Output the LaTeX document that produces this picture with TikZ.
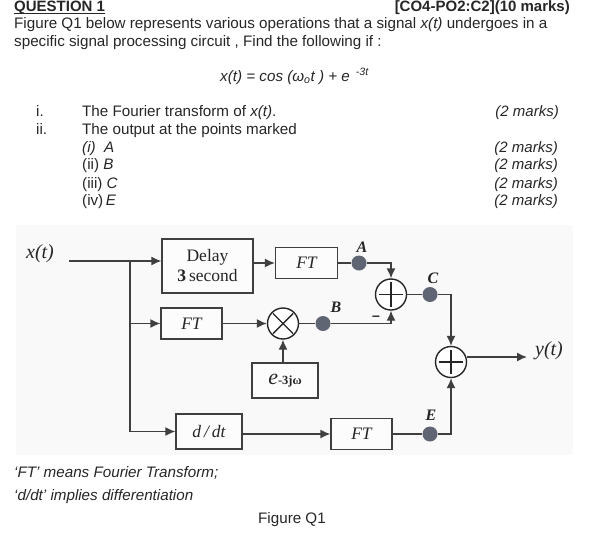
\documentclass[tikz,border=0pt]{standalone}
\usepackage{fontspec}
\setmainfont{Liberation Sans}
\newfontfamily\diagfont{Liberation Serif}
\usetikzlibrary{arrows.meta}
\definecolor{inkc}{HTML}{262626}
\definecolor{wirec}{HTML}{3F3F3F}
\definecolor{dotc}{HTML}{5F6573}
\definecolor{panelc}{HTML}{F9F9F9}

\begin{document}
\begin{tikzpicture}[x=1pt, y=-1pt, text=inkc]
  \tikzstyle{txt} = [anchor=base west, inner sep=0pt, font=\fontsize{15.2}{17}\selectfont]
  \tikzstyle{marktxt} = [anchor=base east, inner sep=0pt, font=\fontsize{15}{17}\selectfont\itshape]
  \tikzstyle{block} = [rectangle, draw=wirec, line width=1.3pt, fill=white!50!panelc, inner sep=0pt, font=\diagfont\fontsize{17.5}{19}\selectfont]
  \tikzstyle{sumnode} = [circle, draw=inkc, line width=1.4pt, fill=white, minimum size=31pt, inner sep=0pt]
  \tikzstyle{probe} = [circle, fill=dotc, minimum size=15pt, inner sep=0pt]
  \tikzstyle{pointlabel} = [inner sep=0pt, font=\diagfont\fontsize{16}{18}\selectfont\bfseries\itshape]
  \tikzstyle{signal} = [inner sep=0pt, font=\diagfont\fontsize{20}{22}\selectfont\itshape]
  \tikzstyle{wire} = [draw=wirec, line width=1.4pt]
  \tikzstyle{arrow} = [wire, -{Latex[length=10pt,width=9pt]}]

  \useasboundingbox (0,0) rectangle (607,536);
  \fill[panelc] (16,225) rectangle (573,455);

  % question text
  \node[txt, font=\fontsize{15}{17}\selectfont\bfseries] (title) at (14,11) {QUESTION 1};
  \draw[inkc, line width=1.2pt] ([yshift=-2.2pt]title.base west) -- ([yshift=-2.2pt]title.base east);
  \node[txt, font=\fontsize{15}{17}\selectfont\bfseries, anchor=base east] (tag) at (570,11) {[CO4-PO2:C2](10 marks)};
  \node[txt] (line1) at (14,28) {Figure Q1 below represents various operations that a signal \textit{x(t)} undergoes in a};
  \node[txt] (line2) at (14,46) {specific signal processing circuit , Find the following if :};
  \node[txt] (eqn) at (220,81) {\textit{x(t) = cos (ω\textsubscript{o}t ) + e \textsuperscript{\,-3t}}};
  \node[txt] (numi) at (36,116) {i.};
  \node[txt] (numii) at (36,134) {ii.};
  \node[txt] (parti) at (82,116) {The Fourier transform of \textit{x(t)}.};
  \node[txt] (partii) at (82,134) {The output at the points marked};
  \node[txt] (subA) at (82,152) {\textit{(i)\ \ A}};
  \node[txt] (subB) at (82,169) {(ii) \textit{B}};
  \node[txt] (subC) at (82,188) {(iii) \textit{C}};
  \node[txt] (subE) at (82,205) {(iv)\,\textit{E}};
  \node[marktxt] (mark1) at (559,116) {(2 marks)};
  \node[marktxt] (mark2) at (558,152) {(2 marks)};
  \node[marktxt] (mark3) at (558,169) {(2 marks)};
  \node[marktxt] (mark4) at (558,188) {(2 marks)};
  \node[marktxt] (mark5) at (558,205) {(2 marks)};

  % blocks
  \node[block, minimum width=91pt, minimum height=54pt, align=center] (delay) at (207.5,266) {Delay\\[1pt]{\bfseries 3}\,second};
  \node[block, minimum width=62pt, minimum height=31pt] (ftA) at (306.5,263) {\itshape FT};
  \node[block, minimum width=61pt, minimum height=31pt] (ftB) at (191.5,323.5) {\itshape FT};
  \node[block, minimum width=66pt, minimum height=35pt] (phase) at (285,380.5) {{\itshape\fontsize{22}{22}\selectfont e}{\fontsize{12.5}{12.5}\selectfont\bfseries -3jω}};
  \node[block, minimum width=66pt, minimum height=35pt] (ddt) at (209,431.5) {\itshape d\,/\,dt};
  \node[block, minimum width=61pt, minimum height=31pt] (ftE) at (361.5,434) {\itshape FT};

  \node[sumnode] (mult) at (283,323.5) {};
  \node[sumnode] (sumC) at (391,294.5) {};
  \node[sumnode] (sumY) at (451,362) {};

  \node[probe] (pA) at (359,263) {};
  \node[probe] (pB) at (323,323.5) {};
  \node[probe] (pC) at (430,294.5) {};
  \node[probe] (pE) at (430,434) {};

  % free ends and the branch point
  \coordinate (in) at (69,261);
  \coordinate (split) at (130,261);
  \coordinate (out) at (527,357);

  % connectors
  \draw[arrow] (in) -- (split -| delay.west);
  \draw[wire] (split) -- (split |- ddt);
  \draw[arrow] (split |- ftB) -- (ftB.west);
  \draw[arrow] (split |- ddt) -- (ddt.west);
  \draw[arrow] (delay.east |- ftA) -- (ftA.west);
  \draw[wire] (ftA) -- (pA);
  \draw[arrow] (pA) -| (sumC.north);
  \draw[arrow] (ftB) -- (mult);
  \draw[arrow] (phase.north -| mult) -- (mult.south);
  \draw[wire] (mult) -- (pB);
  \draw[arrow] (pB) -| (sumC.south);
  \draw[wire] (sumC) -- (pC);
  \draw[arrow] (pC) -| (sumY.north);
  \draw[arrow] (ddt.east |- ftE) -- (ftE.west);
  \draw[wire] (ftE) -- (pE);
  \draw[arrow] (pE) -| (sumY.south);
  \draw[arrow] (sumY.east |- out) -- (out);

  % symbols inside the circles
  \draw[inkc, line width=1.4pt, shorten >=2pt, shorten <=2pt] (mult.north west) -- (mult.south east);
  \draw[inkc, line width=1.4pt, shorten >=2pt, shorten <=2pt] (mult.north east) -- (mult.south west);
  \draw[inkc, line width=1.4pt, shorten >=4pt, shorten <=4pt] (sumC.north) -- (sumC.south);
  \draw[inkc, line width=1.4pt, shorten >=4pt, shorten <=4pt] (sumC.west) -- (sumC.east);
  \draw[inkc, line width=1.4pt, shorten >=4pt, shorten <=4pt] (sumY.north) -- (sumY.south);
  \draw[inkc, line width=1.4pt, shorten >=4pt, shorten <=4pt] (sumY.west) -- (sumY.east);

  % labels
  \node[signal] (xlabel) at (40,254) {x(t)};
  \node[signal] (ylabel) at (549,351) {y(t)};
  \node[pointlabel] (lA) at (362,247) {A};
  \node[pointlabel] (lB) at (336,307) {B};
  \node[pointlabel] (lC) at (433,278) {C};
  \node[pointlabel] (lE) at (431,415) {E};
  \node[inner sep=0pt, font=\fontsize{14}{14}\selectfont\bfseries] (minus) at (376,318) {--};

  % notes under the figure
  \node[txt] (note1) at (14,477) {\textit{`FT' means Fourier Transform;}};
  \node[txt] (note2) at (14,500) {\textit{`d/dt' implies differentiation}};
  \node[txt] (caption) at (258,523) {Figure Q1};
\end{tikzpicture}
\end{document}
